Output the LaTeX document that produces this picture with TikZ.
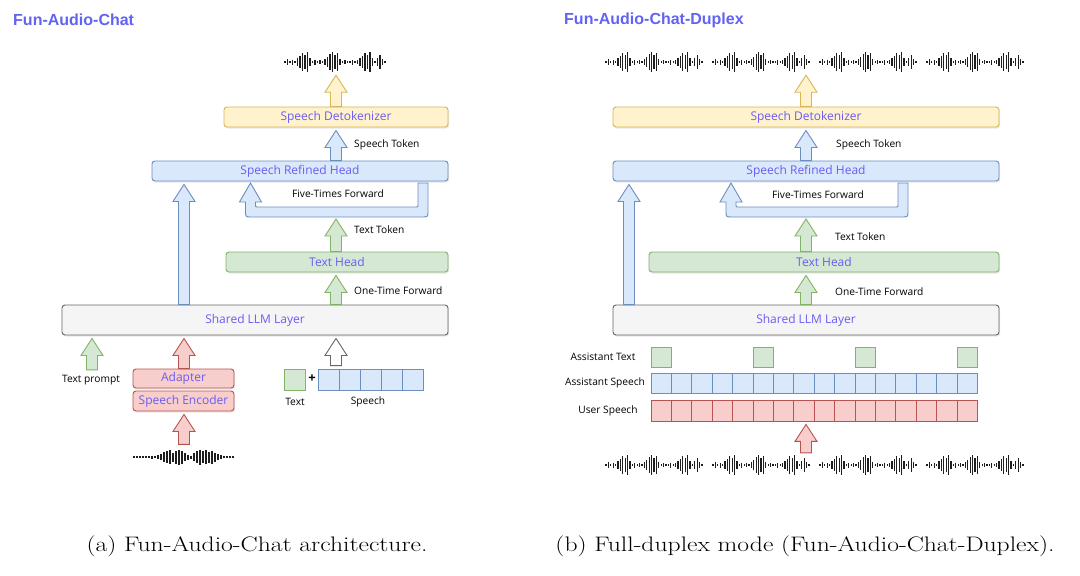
\documentclass[tikz,border=0pt]{standalone}
\usepackage{fontspec}
\newfontfamily\titlefont{Liberation Sans}
\newfontfamily\lblfont{Open Sans}
\newfontfamily\capfont[FakeStretch=1.22]{Latin Modern Roman}
\usetikzlibrary{shadows,calc}
\definecolor{yelF}{HTML}{FFF2CC}\definecolor{yelD}{HTML}{D6B656}
\definecolor{bluF}{HTML}{DAE8FC}\definecolor{bluD}{HTML}{6C8EBF}
\definecolor{grnF}{HTML}{D5E8D4}\definecolor{grnD}{HTML}{82B366}
\definecolor{redF}{HTML}{F8CECC}\definecolor{redD}{HTML}{B85450}
\definecolor{gryF}{HTML}{F5F5F5}\definecolor{gryD}{HTML}{666666}
\definecolor{lblC}{HTML}{6A5CF5}
\definecolor{ttlC}{HTML}{6363F2}
\definecolor{waveC}{HTML}{1E1E1E}
\tikzset{
  box/.style={draw, rounded corners=3pt, line width=0.9pt, inner sep=0pt,
    font=\lblfont\fontsize{12}{14}\selectfont, text=lblC,
    drop shadow={shadow xshift=1.2pt, shadow yshift=-1.5pt, opacity=0.18}},
  yelbox/.style={box, fill=yelF, draw=yelD},
  blubox/.style={box, fill=bluF, draw=bluD},
  grnbox/.style={box, fill=grnF, draw=grnD},
  redbox/.style={box, fill=redF, draw=redD},
  grybox/.style={box, fill=gryF, draw=gryD},
  cell/.style={draw, line width=0.8pt, inner sep=0pt, minimum width=21pt, minimum height=21pt},
  lbl/.style={font=\lblfont\fontsize{10.2}{12}\selectfont, text=black, inner sep=0pt},
  ttl/.style={font=\titlefont\bfseries\fontsize{16}{19}\selectfont, text=ttlC, inner sep=0pt, anchor=west},
  captext/.style={font=\capfont\fontsize{21}{25}\selectfont, inner sep=0pt},
  arY/.style={fill=yelF, draw=yelD, line width=0.9pt},
  arB/.style={fill=bluF, draw=bluD, line width=0.9pt},
  arG/.style={fill=grnF, draw=grnD, line width=0.9pt},
  arR/.style={fill=redF, draw=redD, line width=0.9pt},
  arK/.style={fill=white, draw=gryD, line width=0.9pt},
  wavebar/.style={draw=waveC, line width=1.1pt},
  ghost/.style={inner sep=0pt, draw=none}
}
% block arrow: style, bottom point, point under which the tip sits
\newcommand\barrow[3]{%
  \path[#1] let \p1=#2, \p2=#3 in
   (\x1-5.5pt,\y1) -- (\x1-5.5pt,\y2-20pt) -- (\x1-11pt,\y2-20pt) -- (\x1,\y2-3pt)
   -- (\x1+11pt,\y2-20pt) -- (\x1+5.5pt,\y2-20pt) -- (\x1+5.5pt,\y1) -- cycle;}
% loop arrow: left arrow centre, left edge of right shaft
\newcommand\looparrow[2]{%
  \path[arB] (#2,183) -- (#2+10,183) -- (#2+10,211) .. controls (#2+10,217) .. (#2+4,217)
   -- (#1+1,217) .. controls (#1-5,217) .. (#1-5,211) -- (#1-5,202) -- (#1-11,202)
   -- (#1,183) -- (#1+11,202) -- (#1+5,202) -- (#1+5,205) .. controls (#1+5,207) .. (#1+7,207)
   -- (#2-2,207) .. controls (#2,207) .. (#2,205) -- cycle;}
% waveform: x start, y centre, spacing, heights (a macro holding the list)
\newcommand\wave[4]{%
  \foreach \h [count=\i from 0] in #4 {\draw[wavebar] ({#1+\i*#3},{#2-\h/2}) -- ++(0,\h);}}
\def\patA{2,6,2,5,2,8,12,18,14,20,8,2,5,2,4,2,6,10,16,20,14,18,6,2,4,2,2,5,2,4,8,12,18,14,20,8,2,8,14,6,2}
\def\patB{1.2,1.2,1.2,1.2,2,2,3,2,4,6,10,12,14,9,13,15,13,8,5,3,8,12,15,12,14,11,13,9,6,4,2,1.2,1.2,1.2}
\begin{document}
\begin{tikzpicture}[x=1pt,y=-1pt]
\useasboundingbox[fill=white] (0,0) rectangle (1080,576);
% ---------- titles ----------
\node[ttl] (titleA) at (13,20) {Fun-Audio-Chat};
\node[ttl] (titleB) at (564,20) {Fun-Audio-Chat-Duplex};
% ---------- column coordinates ----------
\coordinate (cA) at (336,0);
\coordinate (cB) at (184,0);
\coordinate (cP) at (92,0);
\coordinate (cR) at (806,0);
\coordinate (cL) at (629,0);
\coordinate (loopA) at (336,216);
\coordinate (loopB) at (806,216);
% ================= LEFT PANEL =================
\node[ghost, minimum width=103pt, minimum height=20pt] (waveA) at (336,62) {};
\wave{285}{62}{2.5}{\patA}
\node[yelbox, minimum width=224pt, minimum height=20pt] (detA) at (336,117) {Speech Detokenizer};
\node[blubox, minimum width=296pt, minimum height=20pt] (srhA) at (300,171) {Speech Refined Head};
\node[grnbox, minimum width=222pt, minimum height=20pt] (thA) at (337,262) {Text Head};
\node[grybox, minimum width=386pt, minimum height=30pt] (llmA) at (255,320) {Shared LLM Layer};
\node[redbox, minimum width=101pt, minimum height=19pt] (adapt) at (183.5,378.5) {Adapter};
\node[redbox, minimum width=101pt, minimum height=20pt] (senc) at (183.5,401) {Speech Encoder};
\node[ghost, minimum width=100pt, minimum height=15pt] (waveB) at (183.5,457) {};
\wave{134}{457}{3}{\patB}
% inputs
\node[cell, fill=grnF, draw=grnD] (txA) at (294.5,379.5) {};
\node[font=\lblfont\bfseries\fontsize{13}{14}\selectfont, inner sep=0pt] (plus) at (312,379) {+};
\foreach \i in {0,...,4} \node[cell, fill=bluF, draw=bluD] (spA\i) at ({328.5+21*\i},379.5) {};
\node[lbl] (lText) at (295,402) {Text};
\node[lbl] (lSpeech) at (368,402) {Speech};
\node[lbl] (tprompt) at (91,380) {Text prompt};
% labels
\node[lbl, anchor=west] (lstA) at (354,145) {Speech Token};
\node[lbl] (lftA) at (338,194) {Five-Times Forward};
\node[lbl, anchor=west] (lttA) at (354,230) {Text Token};
\node[lbl, anchor=west] (lotA) at (354,291) {One-Time Forward};
% arrows
\barrow{arY}{(detA.north -| cA)}{(waveA.south -| cA)}
\barrow{arB}{(srhA.north -| cA)}{(detA.south -| cA)}
\barrow{arB}{(llmA.north -| cB)}{(srhA.south -| cB)}
\looparrow{250.5}{418}
\barrow{arG}{(thA.north -| cA)}{(loopA)}
\barrow{arG}{(llmA.north -| cA)}{(thA.south -| cA)}
\barrow{arG}{($(tprompt.north -| cP)+(0,-5)$)}{(llmA.south -| cP)}
\barrow{arR}{(adapt.north -| cB)}{(llmA.south -| cB)}
\barrow{arR}{($(waveB.north -| cB)+(0,-5)$)}{(senc.south -| cB)}
\barrow{arK}{($(spA0.north -| cA)+(0,-3)$)}{(llmA.south -| cA)}
% ================= RIGHT PANEL =================
\node[ghost, minimum width=417pt, minimum height=20pt] (waveC) at (814.5,62) {};
\foreach \s in {606,713,820,927} {\wave{\s}{62}{2.4}{\patA}}
\node[yelbox, minimum width=386pt, minimum height=20pt] (detB) at (806,117) {Speech Detokenizer};
\node[blubox, minimum width=386pt, minimum height=20pt] (srhB) at (806,171) {Speech Refined Head};
\node[grnbox, minimum width=350pt, minimum height=20pt] (thB) at (824,262) {Text Head};
\node[grybox, minimum width=386pt, minimum height=30pt] (llmB) at (806,320) {Shared LLM Layer};
\foreach \i/\k in {0/a,5/b,10/c,15/d}
  \node[cell, fill=grnF, draw=grnD, minimum width=20.4pt, minimum height=20pt] (at\k) at ({661.2+20.4*\i},357) {};
\foreach \i in {0,...,15}
  \node[cell, fill=bluF, draw=bluD, minimum width=20.4pt, minimum height=20pt] (as\i) at ({661.2+20.4*\i},383) {};
\foreach \i in {0,...,15}
  \node[cell, fill=redF, draw=redD, minimum width=20.4pt, minimum height=21pt] (us\i) at ({661.2+20.4*\i},410.5) {};
\node[lbl] (lat) at (603,357) {Assistant Text};
\node[lbl] (las) at (605,383) {Assistant Speech};
\node[lbl] (lus) at (608,411) {User Speech};
\node[ghost, minimum width=417pt, minimum height=20pt] (waveD) at (814.5,465) {};
\foreach \s in {606,713,820,927} {\wave{\s}{465}{2.4}{\patA}}
% labels
\node[lbl, anchor=west] (lstB) at (836,145) {Speech Token};
\node[lbl] (lftB) at (818,195) {Five-Times Forward};
\node[lbl, anchor=west] (lttB) at (835,237) {Text Token};
\node[lbl, anchor=west] (lotB) at (835,292) {One-Time Forward};
% arrows
\barrow{arY}{(detB.north -| cR)}{(waveC.south -| cR)}
\barrow{arB}{(srhB.north -| cR)}{(detB.south -| cR)}
\barrow{arB}{(llmB.north -| cL)}{(srhB.south -| cL)}
\looparrow{731}{898}
\barrow{arG}{(thB.north -| cR)}{(loopB)}
\barrow{arG}{(llmB.north -| cR)}{(thB.south -| cR)}
\barrow{arR}{($(waveD.north -| cR)+(0,-2)$)}{(us7.south -| cR)}
% ================= CAPTIONS =================
\node[captext] (capA) at (257,546) {(a) Fun-Audio-Chat architecture.};
\node[captext] (capB) at (805,546) {(b) Full-duplex mode (Fun-Audio-Chat-Duplex).};
\end{tikzpicture}
\end{document}
